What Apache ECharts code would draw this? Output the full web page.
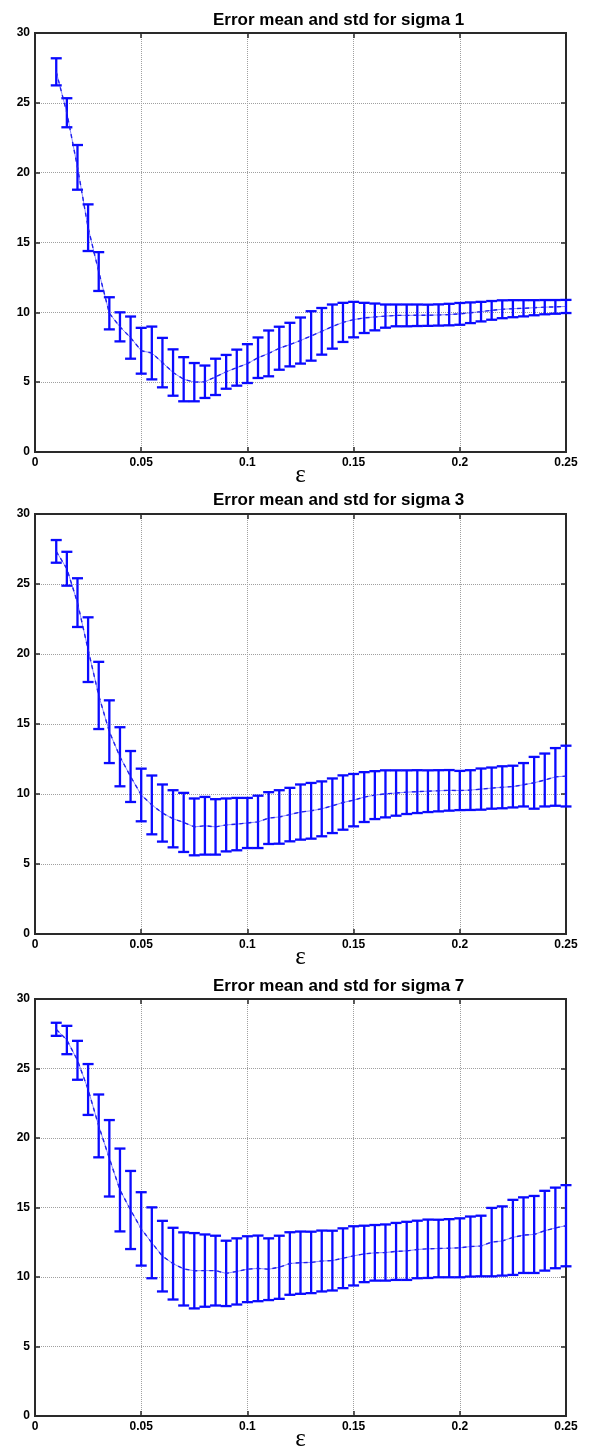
<!DOCTYPE html>
<html>
<head>
<meta charset="utf-8">
<script src="https://cdn.jsdelivr.net/npm/echarts@6/dist/echarts.min.js"></script>
<style>
  html, body { margin: 0; padding: 0; background: #ffffff; }
  #chart { width: 589px; height: 1453px; }
</style>
</head>
<body>
<div id="chart"></div>
<script>
// Regularisation parameter epsilon at which the error was sampled
const epsValues = [
  0.010, 0.015, 0.020, 0.025, 0.030, 0.035, 0.040, 0.045, 0.050, 0.055,
  0.060, 0.065, 0.070, 0.075, 0.080, 0.085, 0.090, 0.095, 0.100, 0.105,
  0.110, 0.115, 0.120, 0.125, 0.130, 0.135, 0.140, 0.145, 0.150, 0.155,
  0.160, 0.165, 0.170, 0.175, 0.180, 0.185, 0.190, 0.195, 0.200, 0.205,
  0.210, 0.215, 0.220, 0.225, 0.230, 0.235, 0.240, 0.245, 0.250
];

// sigma = 1
const meanSigma1 = [
  27.22, 24.29, 20.38, 16.06, 12.92, 9.93, 8.96, 8.19, 7.25, 7.09,
  6.40, 5.69, 5.21, 5.00, 5.03, 5.38, 5.74, 6.04, 6.33, 6.75,
  7.06, 7.43, 7.69, 7.98, 8.31, 8.64, 8.98, 9.28, 9.48, 9.60,
  9.67, 9.73, 9.78, 9.78, 9.79, 9.79, 9.81, 9.84, 9.89, 9.97,
  10.05, 10.14, 10.22, 10.26, 10.29, 10.33, 10.37, 10.39, 10.42
];
const stdSigma1 = [
  0.97, 1.04, 1.60, 1.67, 1.39, 1.15, 1.04, 1.51, 1.64, 1.89,
  1.77, 1.66, 1.58, 1.37, 1.16, 1.30, 1.21, 1.29, 1.39, 1.45,
  1.64, 1.54, 1.56, 1.65, 1.77, 1.67, 1.58, 1.40, 1.27, 1.08,
  0.96, 0.83, 0.78, 0.78, 0.77, 0.76, 0.76, 0.77, 0.78, 0.74,
  0.70, 0.67, 0.64, 0.61, 0.58, 0.54, 0.51, 0.49, 0.47
];

// sigma = 3
const meanSigma3 = [
  27.33, 26.09, 23.67, 20.31, 17.04, 14.45, 12.66, 11.25, 9.93, 9.22,
  8.64, 8.23, 7.97, 7.65, 7.73, 7.65, 7.79, 7.85, 7.93, 8.01,
  8.28, 8.36, 8.53, 8.71, 8.80, 8.94, 9.16, 9.39, 9.56, 9.78,
  9.92, 10.01, 10.07, 10.13, 10.17, 10.20, 10.23, 10.26, 10.25, 10.28,
  10.35, 10.42, 10.48, 10.53, 10.66, 10.80, 11.00, 11.22, 11.28
];
const stdSigma3 = [
  0.81, 1.21, 1.74, 2.31, 2.40, 2.24, 2.11, 1.82, 1.88, 2.10,
  2.04, 2.04, 2.11, 2.03, 2.06, 1.98, 1.89, 1.87, 1.79, 1.87,
  1.85, 1.91, 1.91, 1.97, 1.99, 1.96, 1.95, 1.94, 1.87, 1.78,
  1.71, 1.68, 1.62, 1.56, 1.53, 1.49, 1.47, 1.45, 1.40, 1.42,
  1.47, 1.47, 1.50, 1.49, 1.55, 1.85, 1.89, 2.06, 2.17
];

// sigma = 7
const meanSigma7 = [
  27.82, 27.05, 25.59, 23.49, 20.87, 18.54, 16.26, 14.82, 13.46, 12.46,
  11.50, 10.96, 10.58, 10.45, 10.46, 10.46, 10.26, 10.40, 10.56, 10.62,
  10.56, 10.70, 10.97, 11.03, 11.05, 11.15, 11.18, 11.35, 11.52, 11.66,
  11.74, 11.76, 11.84, 11.88, 11.98, 12.03, 12.05, 12.07, 12.10, 12.19,
  12.23, 12.51, 12.59, 12.85, 13.01, 13.06, 13.33, 13.53, 13.69
];
const stdSigma7 = [
  0.47, 1.02, 1.40, 1.83, 2.26, 2.75, 2.98, 2.81, 2.64, 2.55,
  2.54, 2.58, 2.63, 2.71, 2.60, 2.51, 2.35, 2.38, 2.37, 2.36,
  2.22, 2.27, 2.25, 2.24, 2.21, 2.19, 2.15, 2.15, 2.13, 2.03,
  2.00, 2.02, 2.05, 2.09, 2.07, 2.10, 2.07, 2.09, 2.12, 2.16,
  2.18, 2.46, 2.49, 2.70, 2.72, 2.77, 2.87, 2.90, 2.92
];

const panelTitles = [
  'Error mean and std for sigma 1',
  'Error mean and std for sigma 3',
  'Error mean and std for sigma 7'
];
const xAxisName = 'ε';

const panels = [
  { mean: meanSigma1, std: stdSigma1, top: 33,  height: 419, titleTop: 7 },
  { mean: meanSigma3, std: stdSigma3, top: 514, height: 420, titleTop: 487 },
  { mean: meanSigma7, std: stdSigma7, top: 999, height: 419, titleTop: 973 }
];

const BAR_BLUE = '#0a0aff';
const FRAME = '#2a2a2a';
const GRID_GRAY = '#a0a0a0';
const labelFont = { fontFamily: 'Liberation Sans, Arial, sans-serif', fontWeight: 'bold', fontSize: 12, color: '#000' };

const chart = echarts.init(document.getElementById('chart'), null, { renderer: 'canvas' });

const option = {
  backgroundColor: '#ffffff',
  animation: false,
  title: [],
  grid: [],
  xAxis: [],
  yAxis: [],
  series: []
};

panels.forEach((p, k) => {
  option.title.push({
    text: panelTitles[k],
    left: 208,
    top: p.titleTop,
    textStyle: { fontFamily: 'Liberation Sans, Arial, sans-serif', fontWeight: 'bold', fontSize: 17, color: '#000' }
  });
  option.grid.push({
    left: 35, top: p.top, width: 531, height: p.height,
    show: true, borderColor: FRAME, borderWidth: 2, backgroundColor: '#fff'
  });

  // bottom / left axes carry labels, grid and inward ticks
  option.xAxis.push({
    type: 'value', gridIndex: k, min: 0, max: 0.25, interval: 0.05, position: 'bottom',
    name: xAxisName, nameLocation: 'middle', nameGap: 11, nameMoveOverlap: false,
    nameTextStyle: { fontFamily: 'Liberation Serif, DejaVu Serif, serif', fontSize: 25, color: '#000' },
    axisLine: { show: true, onZero: false, lineStyle: { color: FRAME, width: 2 } },
    axisTick: { show: true, inside: true, length: 5, lineStyle: { color: FRAME, width: 1.5 } },
    axisLabel: Object.assign({ margin: 5 }, labelFont),
    splitLine: { show: true, lineStyle: { color: GRID_GRAY, width: 1, type: [1, 1] } }
  });
  option.yAxis.push({
    type: 'value', gridIndex: k, min: 0, max: 30, interval: 5, position: 'left',
    axisLine: { show: true, onZero: false, lineStyle: { color: FRAME, width: 2 } },
    axisTick: { show: true, inside: true, length: 5, lineStyle: { color: FRAME, width: 1.5 } },
    axisLabel: Object.assign({ margin: 5 }, labelFont),
    splitLine: { show: true, lineStyle: { color: GRID_GRAY, width: 1, type: [1, 1] } }
  });
});

// mirrored top / right axes: ticks only
panels.forEach((p, k) => {
  option.xAxis.push({
    type: 'value', gridIndex: k, min: 0, max: 0.25, interval: 0.05, position: 'top',
    axisLine: { show: true, onZero: false, lineStyle: { color: FRAME, width: 2 } },
    axisTick: { show: true, inside: true, length: 5, lineStyle: { color: FRAME, width: 1.5 } },
    axisLabel: { show: false }, splitLine: { show: false }
  });
  option.yAxis.push({
    type: 'value', gridIndex: k, min: 0, max: 30, interval: 5, position: 'right',
    axisLine: { show: true, onZero: false, lineStyle: { color: FRAME, width: 2 } },
    axisTick: { show: true, inside: true, length: 5, lineStyle: { color: FRAME, width: 1.5 } },
    axisLabel: { show: false }, splitLine: { show: false }
  });
});

panels.forEach((p, k) => {
  const meanPoints = epsValues.map((x, i) => [x, p.mean[i]]);
  const barData = epsValues.map((x, i) => [x, p.mean[i], p.std[i]]);

  // thin solid curve through the means
  option.series.push({
    type: 'line', xAxisIndex: k, yAxisIndex: k, data: meanPoints,
    showSymbol: false, symbol: 'none', silent: true, z: 3,
    lineStyle: { color: '#5a5aff', width: 0.8, opacity: 0.9 }
  });

  // error bars: mean ± std with caps
  option.series.push({
    type: 'custom', xAxisIndex: k, yAxisIndex: k, data: barData, clip: false, z: 4,
    renderItem: function (params, api) {
      const x = api.value(0), m = api.value(1), s = api.value(2);
      const hi = api.coord([x, m + s]);
      const lo = api.coord([x, m - s]);
      const half = 5.5;
      const style = { stroke: BAR_BLUE, lineWidth: 2.3 };
      return {
        type: 'group',
        children: [
          { type: 'line', shape: { x1: hi[0], y1: hi[1], x2: lo[0], y2: lo[1] }, style: style },
          { type: 'line', shape: { x1: hi[0] - half, y1: hi[1], x2: hi[0] + half, y2: hi[1] }, style: style },
          { type: 'line', shape: { x1: lo[0] - half, y1: lo[1], x2: lo[0] + half, y2: lo[1] }, style: style }
        ]
      };
    }
  });

  // dashed mean line
  option.series.push({
    type: 'line', xAxisIndex: k, yAxisIndex: k, data: meanPoints,
    showSymbol: false, symbol: 'none', silent: true, z: 5,
    lineStyle: { color: '#2020ee', width: 1.4, type: [4, 4] }
  });
});

chart.setOption(option);
</script>
</body>
</html>
